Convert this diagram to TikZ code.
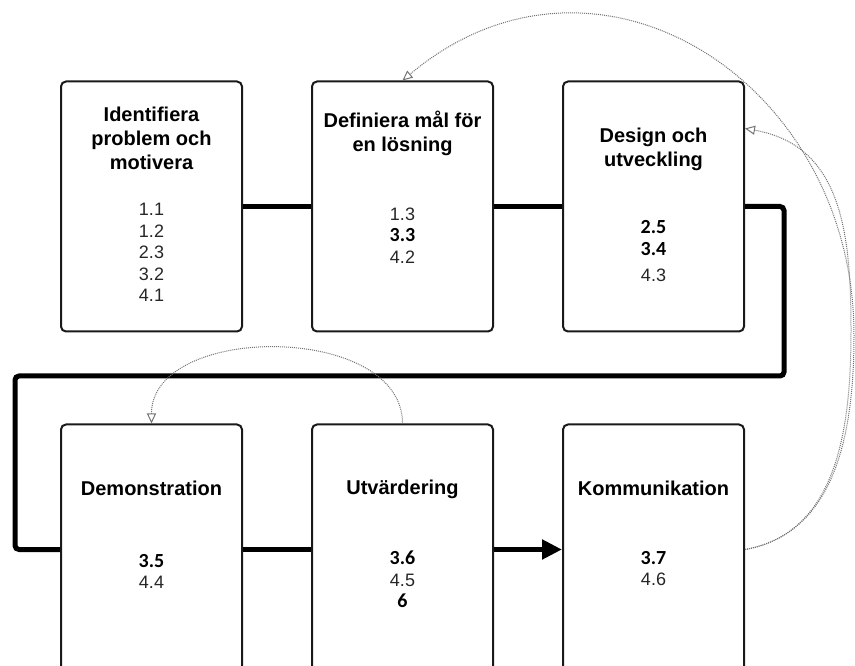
\documentclass[tikz,border=0pt]{standalone}
\usepackage{fontspec}
\setmainfont{Liberation Sans}
\newfontfamily\numfont{Carlito}
\usetikzlibrary{positioning}
\usetikzlibrary{arrows.meta}

\newcommand{\nb}[1]{{\numfont\bfseries\fontsize{20}{21.5}\selectfont\color{black}#1}}

\begin{document}
\begin{tikzpicture}[x=1pt,y=1pt] %% process steps
	\tikzstyle{phase}=[draw=black!90,line width=2pt,rounded corners=5pt,minimum width=181pt,minimum height=250pt,inner sep=0pt]
	\tikzstyle{phasetitle}=[align=center,font=\fontsize{20}{24}\selectfont\bfseries]
	\tikzstyle{refs}=[align=center,text=black!85,font=\fontsize{18}{21.5}\selectfont]
	\tikzstyle{flow}=[line width=5pt,rounded corners=4pt]
	\tikzstyle{back}=[black!55,line width=1pt,dash pattern=on 1pt off 1pt,-{Triangle[open,length=10pt,width=9pt]}]
	\useasboundingbox (0,0) rectangle (855,665);
	\clip (0,0) rectangle (855,665);
	% boxes
	\node[phase] (ident) at (151.5,458.5) {};
	\node[phase,right=68pt of ident] (mal) {};
	\node[phase,right=68pt of mal] (design) {};
	\node[phase,below=91pt of ident] (demo) {};
	\node[phase,right=68pt of demo] (utv) {};
	\node[phase,right=68pt of utv] (komm) {};
	% texts
	\node[phasetitle] (identT) at ([yshift=-58pt]ident.north) {Identifiera\\problem och\\motivera};
	\node[refs] (identR) at ([yshift=-172pt]ident.north) {1.1\\1.2\\2.3\\3.2\\4.1};
	\node[phasetitle] (malT) at ([yshift=-53pt]mal.north) {Definiera mål för\\en lösning};
	\node[refs] (malR) at ([yshift=-155pt]mal.north) {1.3\\\nb{3.3}\\4.2};
	\node[phasetitle] (designT) at ([yshift=-69pt]design.north) {Design och\\utveckling};
	\node[refs] (designR) at ([yshift=-171pt]design.north) {\nb{2.5}\\\nb{3.4}\\[5pt]4.3};
	\node[phasetitle] (demoT) at ([yshift=-65pt]demo.north) {Demonstration};
	\node[refs] (demoR) at ([yshift=-148pt]demo.north) {\nb{3.5}\\4.4};
	\node[phasetitle] (utvT) at ([yshift=-66pt]utv.north) {Utvärdering};
	\node[refs] (utvR) at ([yshift=-156pt]utv.north) {\nb{3.6}\\4.5\\\nb{6}};
	\node[phasetitle] (kommT) at ([yshift=-65pt]komm.north) {Kommunikation};
	\node[refs] (kommR) at ([yshift=-145pt]komm.north) {\nb{3.7}\\4.6};
	% main flow
	\coordinate (loopR) at (784,289);
	\coordinate (loopL) at (15,289);
	\draw[flow] (ident.east) -- (mal.west);
	\draw[flow] (mal.east) -- (design.west);
	\draw[flow] (design.east) -| (loopR) -- (loopL) |- (demo.west);
	\draw[flow] (demo.east) -- (utv.west);
	\draw[flow,-{Triangle[length=20pt,width=19pt]}] (utv.east) -- (komm.west);
	% iterations
	\coordinate (rimA) at (854,330);
	\coordinate (rimB) at (851,335);
	\draw[back] (komm.east) to[out=10,in=-90] (rimA) to[out=90,in=40,looseness=1.25] (mal.north);
	\draw[back] (komm.east) to[out=10,in=-90] (rimB) to[out=90,in=-10,looseness=1.1] ([yshift=78pt]design.east);
	\draw[back] (utv.north) to[out=90,in=90,looseness=1.03] (demo.north);
\end{tikzpicture}
\end{document}
